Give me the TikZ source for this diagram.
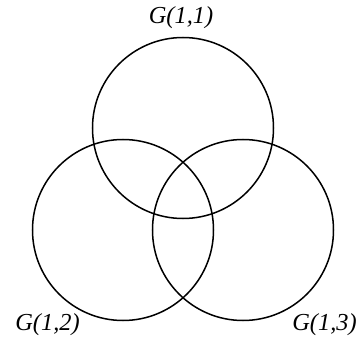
\documentclass[tikz,border=0pt]{standalone}
\usepackage{fontspec}
\setmainfont{Liberation Serif}
\begin{document}
\begin{tikzpicture}[x=1bp,y=1bp,
  setcircle/.style={draw=black,line width=1.5bp,circle,minimum size=181bp,inner sep=0pt},
  setlabel/.style={font=\fontsize{24.5}{26}\selectfont\itshape,inner sep=0pt}]
\useasboundingbox (0,0) rectangle (362,337);
\node[setcircle] (c11) at (183,209) {};
\node[setcircle] (c12) at (123,107) {};
\node[setcircle] (c13) at (243,107) {};
\node[setlabel] (l11) at (181,319) {G(1,1)};
\node[setlabel] (l12) at (47.5,12) {G(1,2)};
\node[setlabel] (l13) at (324.5,12) {G(1,3)};
\end{tikzpicture}
\end{document}
